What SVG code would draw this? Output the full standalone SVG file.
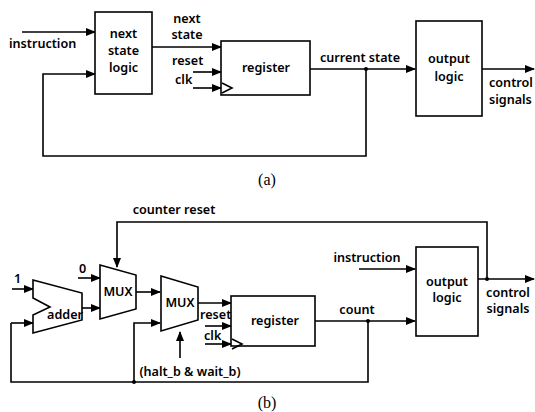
<svg xmlns="http://www.w3.org/2000/svg" width="535" height="412" viewBox="0 0 535 412">
  <style>
    .box { fill: #fff; stroke: #000; stroke-width: 1.6; }
    .w { fill: none; stroke: #000; stroke-width: 1.6; }
    .a { fill: none; stroke: #000; stroke-width: 1.6; marker-end: url(#arr); }
    .t { font-family: "Noto Sans", "Liberation Sans", sans-serif; font-size: 12.6px; font-weight: 600; fill: #000; }
    .c { text-anchor: middle; }
    .cap { font-family: "Liberation Serif", serif; font-size: 16px; fill: #000; text-anchor: middle; }
  </style>
  <defs>
    <marker id="arr" markerWidth="10" markerHeight="8" refX="9" refY="4" orient="auto" markerUnits="userSpaceOnUse">
      <path d="M0,0 L10,4 L0,8 Z" fill="#000"/>
    </marker>
  </defs>

  <rect width="535" height="412" fill="#fff"/>

  <!-- ===== (a) state machine ===== -->
  <g id="connectors-a">
    <line class="a" x1="22" y1="32" x2="95" y2="32"/>
    <line class="a" x1="152" y1="47" x2="221" y2="47"/>
    <line class="a" x1="193" y1="72" x2="221" y2="72"/>
    <line class="a" x1="193" y1="88" x2="221" y2="88"/>
    <line class="a" x1="310" y1="69" x2="415" y2="69"/>
    <polyline class="a" points="366,69 366,156 43,156 43,74 95,74"/>
    <line class="a" x1="482" y1="69" x2="534" y2="69"/>
    <circle cx="366" cy="69" r="2" fill="#000"/>
  </g>
  <g id="labels-a">
    <text class="t" x="9" y="48">instruction</text>
    <text class="t c" x="187" y="23">next</text>
    <text class="t c" x="187" y="39">state</text>
    <text class="t" x="172" y="65">reset</text>
    <text class="t" x="175" y="84">clk</text>
    <text class="t c" x="360" y="62">current state</text>
    <text class="t" x="489" y="87">control</text>
    <text class="t" x="489" y="104">signals</text>
  </g>
  <g id="next-state-logic">
    <rect class="box" x="95" y="12" width="57" height="82"/>
    <text class="t c" x="123.5" y="38">next</text>
    <text class="t c" x="123.5" y="55">state</text>
    <text class="t c" x="123.5" y="72">logic</text>
  </g>
  <g id="register-a">
    <rect class="box" x="221" y="41" width="89" height="54"/>
    <polyline class="w" points="222,83 232,88 222,93"/>
    <text class="t c" x="266" y="72">register</text>
  </g>
  <g id="output-logic-a">
    <rect class="box" x="416" y="21" width="66" height="95"/>
    <text class="t c" x="449" y="63">output</text>
    <text class="t c" x="449" y="81">logic</text>
  </g>
  <text class="cap" x="267" y="185">(a)</text>

  <!-- ===== (b) counter ===== -->
  <g id="connectors-b">
    <line class="a" x1="12" y1="289" x2="33" y2="289"/>
    <line class="a" x1="78" y1="278" x2="100" y2="278"/>
    <line class="a" x1="82" y1="308" x2="100" y2="308"/>
    <line class="a" x1="136" y1="292" x2="160" y2="292"/>
    <polyline class="a" points="487,279 487,222 117,222 117,267"/>
    <polyline class="w" points="368,321 368,382 11,382 11,323"/>
    <line class="a" x1="11" y1="323" x2="33" y2="323"/>
    <polyline class="a" points="134,382 134,323 160,323"/>
    <line class="a" x1="180" y1="358" x2="180" y2="332"/>
    <line class="a" x1="198" y1="303" x2="231" y2="303"/>
    <line class="a" x1="205" y1="326" x2="231" y2="326"/>
    <line class="a" x1="205" y1="344" x2="231" y2="344"/>
    <line class="a" x1="315" y1="321" x2="415" y2="321"/>
    <line class="a" x1="359" y1="269" x2="415" y2="269"/>
    <line class="a" x1="478" y1="279" x2="534" y2="279"/>
    <circle cx="134" cy="382" r="2" fill="#000"/>
    <circle cx="368" cy="321" r="2" fill="#000"/>
    <circle cx="487" cy="279" r="2" fill="#000"/>
  </g>
  <g id="labels-b">
    <text class="t c" x="174" y="214">counter reset</text>
    <text class="t" x="79" y="273">0</text>
    <text class="t" x="14" y="283">1</text>
    <text class="t" x="200" y="319">reset</text>
    <text class="t" x="204" y="340">clk</text>
    <text class="t c" x="190" y="376">(halt_b &amp; wait_b)</text>
    <text class="t c" x="357" y="314">count</text>
    <text class="t c" x="367" y="262">instruction</text>
    <text class="t c" x="508" y="297">control</text>
    <text class="t c" x="508" y="313">signals</text>
  </g>
  <g id="adder">
    <polygon class="box" points="33,280 82,293 82,320 33,333 33,315 50,307 33,298"/>
    <text class="t c" x="65" y="319">adder</text>
  </g>
  <g id="mux-reset">
    <polygon class="box" points="100,265 136,275 136,309 100,319"/>
    <text class="t c" x="118" y="296">MUX</text>
  </g>
  <g id="mux-enable">
    <polygon class="box" points="161,276 198,287 198,320 161,331"/>
    <text class="t c" x="180" y="307">MUX</text>
  </g>
  <g id="register-b">
    <rect class="box" x="231" y="296" width="84" height="50"/>
    <polyline class="w" points="232,339 242,344 232,349"/>
    <text class="t c" x="275" y="325">register</text>
  </g>
  <g id="output-logic-b">
    <rect class="box" x="416" y="247" width="62" height="89"/>
    <text class="t c" x="447" y="286">output</text>
    <text class="t c" x="447" y="302">logic</text>
  </g>
  <text class="cap" x="267" y="408">(b)</text>
</svg>
